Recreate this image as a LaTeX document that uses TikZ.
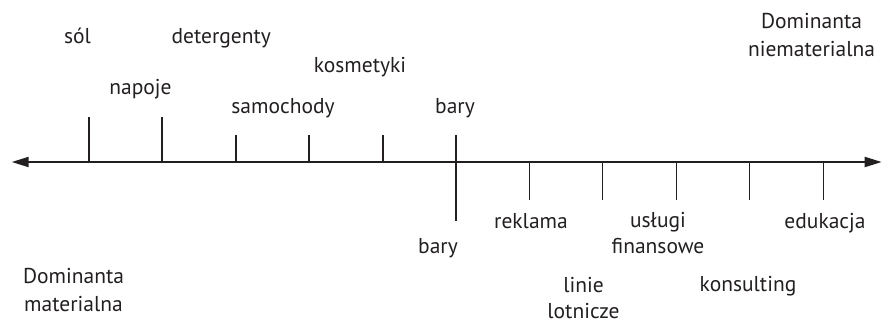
\documentclass[tikz,border=0pt]{standalone}
\usepackage{fontspec}
\setmainfont{PT Sans}
\usetikzlibrary{arrows.meta}
\definecolor{ink}{HTML}{231F20}
\begin{document}
\begin{tikzpicture}[x=1pt,y=-1pt,
  axisline/.style={draw=ink,line width=2pt,{Triangle[length=17pt,width=10pt]}-{Triangle[length=17pt,width=10pt]}},
  tickline/.style={draw=ink,line width=1.2pt},
  lbl/.style={text=ink,inner sep=0pt,anchor=base,align=center,font=\fontsize{21.5}{25.5}\selectfont},
  bigl/.style={lbl,font=\fontsize{21.5}{28.5}\selectfont}]
\useasboundingbox (0,0) rectangle (883,322);

% axis end points
\coordinate (L) at (11.7,162);
\coordinate (R) at (881.7,162);
\draw[axisline] (L) -- (R);

% ticks above the axis
\foreach \n/\x/\t in {a1/89/116.7,a2/162/116.7,a3/236/135,a4/309/135,a5/383/135}{
  \coordinate (\n) at (\x,162);
  \coordinate (\n top) at (\x,\t);
  \draw[tickline] (\n) -- (\n top);
}
% tick crossing the axis
\coordinate (bartop) at (456,135);
\coordinate (barbot) at (456,220.5);
\draw[tickline] (bartop) -- (barbot);
% ticks below the axis
\foreach \n/\x in {b1/529.3,b2/602.7,b3/676.3,b4/749.7,b5/823.3}{
  \coordinate (\n) at (\x,162);
  \coordinate (\n bot) at (\x,199.5);
  \draw[tickline] (\n) -- (\n bot);
}

% labels above (base anchor = baseline of the last line)
\node[lbl] (sol) at (77.6,43) {sól};
\node[lbl] (deter) at (221.3,43) {detergenty};
\node[lbl] (napoje) at (140.5,94) {napoje};
\node[lbl] (kosm) at (360,72.7) {kosmetyki};
\node[lbl] (samoch) at (283,113.3) {samochody};
\node[lbl] (barytop) at (455,113.3) {bary};

% labels below
\node[lbl] (barybot) at (438,253.3) {bary};
\node[lbl] (rekl) at (531,228.3) {reklama};
\node[lbl] (uslugi) at (658,253.3) {usługi\\finansowe};
\node[lbl] (linie) at (583.5,318.3) {linie\\lotnicze};
\node[lbl] (konsult) at (748,291.7) {konsulting};
\node[lbl] (eduk) at (825,228.3) {edukacja};

% end labels
\node[bigl] (matl) at (73.5,311.7) {Dominanta\\materialna};
\node[bigl] (niemat) at (811.5,56.7) {Dominanta\\niematerialna};
\end{tikzpicture}
\end{document}
